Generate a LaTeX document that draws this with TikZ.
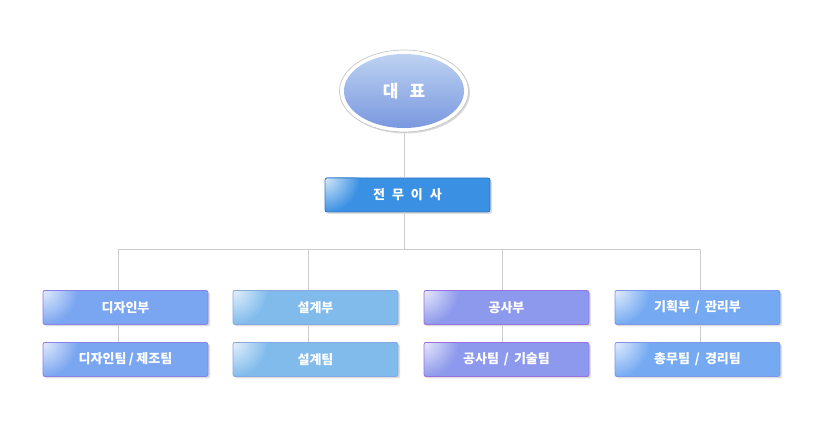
\documentclass[tikz,border=0pt]{standalone}
\usepackage{fontspec}
\setmainfont{Noto Sans CJK KR}
\newfontfamily\kr{Noto Sans CJK KR}
\usetikzlibrary{shapes.geometric,shadows}
\definecolor{lineg}{HTML}{CCCCCC}
\definecolor{vpfill}{HTML}{3A91E3}
\definecolor{vpdraw}{HTML}{3476C4}
\definecolor{cA}{HTML}{7AA5F0}
\definecolor{cAd}{HTML}{8A80E8}
\definecolor{cB}{HTML}{80BBEC}
\definecolor{cBd}{HTML}{86A8E0}
\definecolor{cC}{HTML}{8D99EC}
\definecolor{cCd}{HTML}{9A70E0}
\definecolor{cD}{HTML}{75AAF2}
\definecolor{cDd}{HTML}{7E96E8}
\definecolor{ceotop}{HTML}{BDD2F2}
\definecolor{ceobot}{HTML}{7A98DF}
\tikzset{
  conn/.style={draw=lineg, line width=0.9pt},
  orgbox/.style 2 args={rectangle, rounded corners=2pt, minimum width=165pt, minimum height=34pt,
    fill=#1, draw=#2, line width=0.8pt, text=white,
    font=\kr\bfseries\fontsize{13}{15}\selectfont,
    drop shadow={opacity=0.25, shadow xshift=2pt, shadow yshift=-2pt},
    path picture={\foreach \r in {36,34.5,...,1.5} {%
        \pgfmathsetmacro\k{82*(1-\r/36)}%
        \fill[white!\k!#1] (path picture bounding box.north west) circle[radius=\r pt];}}},
  ceoring/.style={ellipse, minimum width=129pt, minimum height=82pt, inner sep=0pt,
    fill=white, draw=gray!45, line width=0.7pt,
    drop shadow={opacity=0.3, shadow xshift=1.5pt, shadow yshift=-1.5pt}},
  ceo/.style={ellipse, minimum width=120pt, minimum height=74pt, inner sep=0pt,
    top color=ceotop, bottom color=ceobot, text=white,
    font=\kr\bfseries\fontsize{17}{20}\selectfont}
}
\begin{document}
\begin{tikzpicture}[x=1pt,y=-1pt]
\useasboundingbox (0,0) rectangle (820,430);
\node[ceoring] (ring) at (404,91) {};
\node[ceo] (ceo) at (404,91) {대\hspace{11pt}표};
\node[orgbox={vpfill}{vpdraw}] (vp) at (407.5,195) {전\hspace{7pt}무\hspace{7pt}이\hspace{7pt}사};
% departments
\node[orgbox={cA}{cAd}] (d1) at (125.5,307.5) {디자인부};
\node[orgbox={cA}{cAd}] (t1) at (125.5,359.5) {디자인팀\hspace{2.5pt}/\hspace{2.5pt}제조팀};
\node[orgbox={cB}{cBd}] (d2) at (315.5,307.5) {설계부};
\node[orgbox={cB}{cBd}] (t2) at (315.5,359.5) {설계팀};
\node[orgbox={cC}{cCd}] (d3) at (506.5,307.5) {공사부};
\node[orgbox={cC}{cCd}] (t3) at (506.5,359.5) {공사팀\hspace{5pt}/\hspace{5pt}기술팀};
\node[orgbox={cD}{cDd}] (d4) at (697.5,307.5) {기획부\hspace{5pt}/\hspace{5pt}관리부};
\node[orgbox={cD}{cDd}] (t4) at (697.5,359.5) {총무팀\hspace{5pt}/\hspace{5pt}경리팀};
% connectors
\coordinate (j) at (404,249);
\coordinate (c1) at (118,249);
\coordinate (c2) at (308,249);
\coordinate (c3) at (502,249);
\coordinate (c4) at (700,249);
\draw[conn] (j |- ring.south) -- (j |- vp.north);
\draw[conn] (j |- vp.south) -- (j);
\draw[conn] (c1) -- (c4);
\draw[conn] (c1) -- (c1 |- d1.north);
\draw[conn] (c2) -- (c2 |- d2.north);
\draw[conn] (c3) -- (c3 |- d3.north);
\draw[conn] (c4) -- (c4 |- d4.north);
\draw[conn] (c1 |- d1.south) -- (c1 |- t1.north);
\draw[conn] (c2 |- d2.south) -- (c2 |- t2.north);
\draw[conn] (c3 |- d3.south) -- (c3 |- t3.north);
\draw[conn] (c4 |- d4.south) -- (c4 |- t4.north);
\end{tikzpicture}
\end{document}
